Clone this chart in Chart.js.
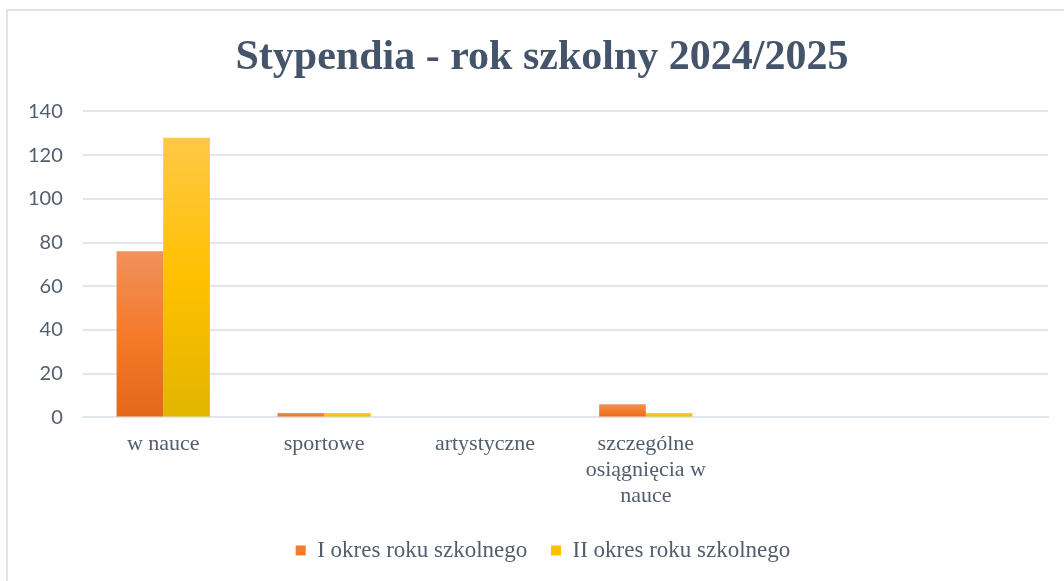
<!DOCTYPE html>
<html>
<head>
<meta charset="utf-8">
<script src="https://cdn.jsdelivr.net/npm/chart.js@4/dist/chart.umd.min.js"></script>
<style>
  html, body { margin: 0; padding: 0; background: #fff; }
  #wrap { position: relative; width: 1064px; height: 581px; }
  #frame {
    position: absolute; left: 6px; top: 9px; right: -4px; bottom: -4px;
    border-left: 2px solid #dfe4ec; border-top: 2px solid #dfe4ec;
  }
  canvas { position: absolute; left: 0; top: 0; }
</style>
</head>
<body>
<div id="wrap">
  <div id="frame"></div>
  <canvas id="chart" width="1064" height="581"></canvas>
</div>
<script>
// Data
const categories = [
  "w nauce",
  "sportowe",
  "artystyczne",
  ["szczególne", "osiągnięcia w", "nauce"],
  "",
  "",
];
const okres1 = [76, 2, 0, 6, null, null];
const okres2 = [128, 2, 0, 2, null, null];
const yTicks = [0, 20, 40, 60, 80, 100, 120, 140];

const serif = "'Liberation Serif', 'DejaVu Serif', serif";
const textColor = "#535d6c";
const gridColor = "#e1e5ec";

// per-bar vertical gradient (light top -> dark bottom)
function barGradient(stops, flat) {
  return (ctx) => {
    const chart = ctx.chart;
    const y = chart.scales && chart.scales.y;
    if (!chart.chartArea || !y || ctx.parsed == null || ctx.parsed.y == null) return flat;
    const top = y.getPixelForValue(ctx.parsed.y);
    const bottom = y.getPixelForValue(0);
    if (bottom - top < 1) return flat;
    const g = chart.ctx.createLinearGradient(0, top, 0, bottom);
    g.addColorStop(0, stops[0]);
    g.addColorStop(0.5, stops[1]);
    g.addColorStop(1, stops[2]);
    return g;
  };
}

const orangeFlat = "#f47b2a";
const yellowFlat = "#ffc000";

// nudge title and legend a bit right, like the original
const nudge = {
  id: "nudge",
  afterLayout(chart) {
    chart.titleBlock.left += 28;
    chart.legend.left += 30;
  },
};

new Chart(document.getElementById("chart"), {
  type: "bar",
  plugins: [nudge],
  data: {
    labels: categories,
    datasets: [
      {
        label: "I okres roku szkolnego",
        data: okres1,
        backgroundColor: barGradient(["#f0915c", "#f47b2a", "#e4671a"], orangeFlat),
        borderWidth: 0,
        categoryPercentage: 0.58,
        barPercentage: 1.0,
      },
      {
        label: "II okres roku szkolnego",
        data: okres2,
        backgroundColor: barGradient(["#ffc846", "#ffc000", "#e2b500"], yellowFlat),
        borderWidth: 0,
        categoryPercentage: 0.58,
        barPercentage: 1.0,
      },
    ],
  },
  options: {
    responsive: false,
    animation: false,
    layout: { padding: { left: 8, right: 16, top: 10, bottom: 9 } },
    plugins: {
      title: {
        display: true,
        text: "Stypendia - rok szkolny 2024/2025",
        color: "#44546a",
        font: { family: serif, size: 42, weight: "bold" },
        padding: { top: 23, bottom: 28 },
      },
      legend: {
        position: "bottom",
        labels: {
          color: textColor,
          font: { family: serif, size: 23 },
          boxWidth: 10,
          boxHeight: 10,
          padding: 23.7,
          generateLabels: (chart) => {
            const items = Chart.defaults.plugins.legend.labels.generateLabels(chart);
            const flats = [orangeFlat, yellowFlat];
            items.forEach((it, i) => {
              it.fillStyle = flats[i];
              it.strokeStyle = flats[i];
              it.lineWidth = 0;
            });
            return items;
          },
        },
      },
      tooltip: { enabled: false },
    },
    scales: {
      x: {
        grid: { display: false },
        border: { display: true, color: gridColor, width: 2 },
        ticks: {
          color: textColor,
          font: { family: serif, size: 22, lineHeight: 1.18 },
          padding: 6,
          maxRotation: 0,
          autoSkip: false,
        },
      },
      y: {
        min: 0,
        max: 140,
        afterBuildTicks: (axis) => {
          axis.ticks = yTicks.map((v) => ({ value: v }));
        },
        grid: { color: gridColor, lineWidth: 2, drawTicks: false },
        border: { display: false },
        ticks: {
          color: textColor,
          font: { family: "Lato, 'Open Sans', sans-serif", size: 20 },
          padding: 20,
        },
      },
    },
  },
});
</script>
</body>
</html>
